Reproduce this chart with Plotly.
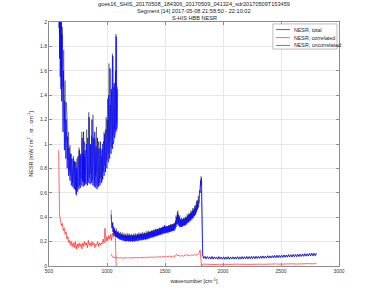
import numpy as np
import plotly.graph_objects as go

# ---------------- data ----------------
title_lines = ["goes16_SHIS_20170508_184306_20170509_041324_sdr20170509T153459",
               "Segment [14] 2017-05-08 21:58:50 - 22:10:02",
               "S-HIS HBB NESR"]
series_names = ["NESR, total", "NESR, correlated", "NESR, uncorrelated"]
series_colors = ["#000000", "#ff0000", "#0000ff"]
x_ticks = [500, 1000, 1500, 2000, 2500, 3000]

# uncorrelated (blue) band 1: noise troughs (from 585, step 6) and crests (from 588, step 6)
unc_b1_lo_start, unc_b1_hi_start, unc_b1_step = 585, 588, 6
unc_b1_lo = [1.95, 1.7, 1.55, 1.45, 1.35, 1.22, 1.1, 1.02, 0.95, 0.92,
             0.88, 0.84, 0.8, 0.78, 0.74, 0.72, 0.7, 0.69, 0.66, 0.7,
             0.65, 0.68, 0.63, 0.66, 0.62, 0.58, 0.64, 0.61, 0.65, 0.63,
             0.66, 0.64, 0.69, 0.66, 0.7, 0.65, 0.68, 0.66, 0.7, 0.67,
             0.69, 0.66, 0.72, 0.68, 0.7, 0.67, 0.71, 0.68, 0.72, 0.66,
             0.69, 0.65, 0.7, 0.64, 0.68, 0.63, 0.67, 0.65, 0.69, 0.66,
             0.7, 0.68, 0.72, 0.71, 0.75, 0.74, 0.78, 0.77, 0.82, 0.8,
             0.86, 0.85, 0.9, 0.88, 0.93, 0.92, 0.97, 0.96, 1.0, 1.02,
             1.05, 1.08, 1.1, 1.12, 1.15]
unc_b1_hi = [2.4, 2.3, 2.2, 2.05, 1.9, 1.75, 1.6, 1.45, 1.35, 1.25,
             1.2, 1.12, 1.06, 1.0, 0.97, 0.94, 0.92, 0.9, 0.88, 0.86,
             0.88, 0.84, 0.86, 0.82, 0.85, 0.8, 0.84, 0.9, 0.86, 0.95,
             0.88, 0.92, 0.9, 1.05, 0.92, 1.1, 0.9, 0.95, 0.92, 1.0,
             0.95, 1.05, 0.93, 1.22, 0.95, 1.0, 0.94, 1.2, 0.96, 1.05,
             0.93, 1.1, 0.92, 0.98, 0.9, 1.05, 0.92, 0.96, 0.9, 1.02,
             0.92, 0.95, 0.96, 1.0, 1.02, 1.08, 1.05, 1.12, 1.1, 1.2,
             1.18, 1.4, 1.25, 1.62, 1.3, 1.45, 1.32, 1.72, 1.35, 1.5,
             1.4, 1.6, 1.88, 1.42, 1.45]
# band 2: troughs from 1035, crests from 1039, step 8
unc_b2_lo_start, unc_b2_hi_start, unc_b2_step = 1035, 1039, 8
unc_b2_lo = [0.42, 0.31, 0.28, 0.26, 0.245, 0.24, 0.235, 0.23, 0.225, 0.22,
             0.215, 0.215, 0.21, 0.21, 0.205, 0.205, 0.2, 0.205, 0.205, 0.2,
             0.205, 0.2, 0.205, 0.2, 0.205, 0.2, 0.205, 0.205, 0.21, 0.205,
             0.21, 0.21, 0.215, 0.21, 0.215, 0.215, 0.22, 0.215, 0.22, 0.22,
             0.225, 0.225, 0.23, 0.23, 0.235, 0.235, 0.24, 0.24, 0.245, 0.245,
             0.25, 0.25, 0.255, 0.255, 0.26, 0.26, 0.265, 0.265, 0.27, 0.27,
             0.27, 0.275, 0.275, 0.28, 0.28, 0.285, 0.285, 0.29, 0.29, 0.3,
             0.32, 0.34, 0.34, 0.33, 0.32, 0.32, 0.32, 0.325, 0.33, 0.33,
             0.335, 0.34, 0.35, 0.355, 0.36, 0.37, 0.375, 0.385, 0.39, 0.4,
             0.41, 0.42, 0.44, 0.46, 0.48, 0.52, 0.6, 0.66]
unc_b2_hi = [0.38, 0.35, 0.32, 0.3, 0.29, 0.285, 0.28, 0.275, 0.27, 0.265,
             0.26, 0.26, 0.255, 0.255, 0.25, 0.255, 0.25, 0.25, 0.255, 0.25,
             0.25, 0.255, 0.25, 0.25, 0.255, 0.25, 0.255, 0.25, 0.26, 0.255,
             0.26, 0.26, 0.265, 0.26, 0.265, 0.265, 0.27, 0.265, 0.27, 0.275,
             0.275, 0.28, 0.28, 0.285, 0.285, 0.29, 0.29, 0.295, 0.3, 0.3,
             0.3, 0.305, 0.31, 0.31, 0.315, 0.315, 0.32, 0.33, 0.32, 0.325,
             0.325, 0.33, 0.33, 0.335, 0.335, 0.34, 0.34, 0.345, 0.35, 0.37,
             0.4, 0.44, 0.42, 0.4, 0.385, 0.38, 0.38, 0.385, 0.39, 0.39,
             0.395, 0.4, 0.41, 0.42, 0.425, 0.43, 0.44, 0.45, 0.46, 0.47,
             0.48, 0.5, 0.52, 0.54, 0.57, 0.62, 0.7, 0.72]
# band 3 starts 1825, step 10
unc_b3_start, unc_b3_step = 1825, 10
unc_b3 = [0.085, 0.062, 0.078, 0.058, 0.076, 0.06, 0.074, 0.057, 0.077, 0.056,
          0.074, 0.058, 0.073, 0.055, 0.076, 0.057, 0.072, 0.056, 0.074, 0.055,
          0.073, 0.056, 0.075, 0.055, 0.072, 0.057, 0.074, 0.056, 0.073, 0.057,
          0.075, 0.056, 0.074, 0.058, 0.076, 0.057, 0.075, 0.058, 0.077, 0.058,
          0.076, 0.059, 0.078, 0.06, 0.077, 0.06, 0.079, 0.061, 0.078, 0.062,
          0.08, 0.062, 0.081, 0.063, 0.08, 0.064, 0.083, 0.064, 0.082, 0.066,
          0.084, 0.066, 0.085, 0.067, 0.087, 0.068, 0.086, 0.069, 0.088, 0.07,
          0.09, 0.071, 0.089, 0.072, 0.092, 0.073, 0.091, 0.074, 0.094, 0.075,
          0.093, 0.076, 0.096, 0.077, 0.095, 0.078, 0.098, 0.079, 0.1, 0.08,
          0.099, 0.081, 0.102, 0.082, 0.104, 0.083, 0.103, 0.084, 0.105]

# total (black)
tot_b1_start, tot_b1_step = 585, 6
tot_b1 = [2.36, 1.91, 2.16, 2.26, 1.62, 1.96, 1.47, 1.77, 1.17, 1.52,
          1.02, 1.34, 1.22, 0.87, 1.1, 0.78, 0.99, 0.74, 0.92, 0.82,
          0.68, 0.9, 0.64, 0.86, 0.72, 0.59, 0.88, 0.65, 0.8, 0.97,
          0.66, 0.9, 0.72, 1.1, 0.69, 0.92, 0.76, 1.02, 0.68, 0.95,
          1.12, 0.7, 0.87, 1.26, 0.72, 0.97, 0.76, 1.07, 0.7, 1.24,
          0.82, 0.68, 1.04, 0.74, 1.14, 0.66, 0.92, 1.02, 0.68, 0.97,
          0.72, 0.9, 0.69, 1.0, 0.77, 1.1, 0.82, 0.97, 1.22, 0.87,
          1.37, 0.92, 1.66, 1.02, 1.32, 0.97, 1.57, 1.74, 1.07, 1.47,
          1.12, 1.62, 1.9, 1.17, 1.47]
tot_b2_start, tot_b2_step = 1035, 8
tot_b2 = [0.46, 0.325, 0.36, 0.275, 0.315, 0.255, 0.305, 0.245, 0.285, 0.235, 0.28, 0.23, 0.275, 0.225, 0.27, 0.22,
          0.265, 0.215, 0.27, 0.22, 0.265, 0.215, 0.26, 0.22, 0.265, 0.215, 0.27, 0.22, 0.265, 0.225, 0.275, 0.225,
          0.27, 0.23, 0.28, 0.23, 0.275, 0.235, 0.285, 0.235, 0.29, 0.24, 0.285, 0.245, 0.295, 0.245, 0.3, 0.25,
          0.305, 0.255, 0.305, 0.26, 0.315, 0.265, 0.315, 0.27, 0.325, 0.275, 0.335, 0.28, 0.325, 0.285, 0.335, 0.285,
          0.345, 0.29, 0.345, 0.295, 0.355, 0.315, 0.415, 0.345, 0.455, 0.355, 0.415, 0.335, 0.395, 0.335, 0.395, 0.345,
          0.405, 0.355, 0.425, 0.365, 0.435, 0.375, 0.455, 0.395, 0.475, 0.415, 0.495, 0.435, 0.535, 0.465, 0.575, 0.515,
          0.655, 0.735]
tot_b3_start, tot_b3_step = 1825, 10
tot_b3 = [0.087, 0.064, 0.08, 0.06, 0.078, 0.062, 0.076, 0.059, 0.079, 0.058,
          0.076, 0.06, 0.075, 0.057, 0.078, 0.059, 0.074, 0.058, 0.076, 0.057,
          0.075, 0.058, 0.077, 0.057, 0.074, 0.059, 0.076, 0.058, 0.075, 0.059,
          0.077, 0.058, 0.076, 0.06, 0.078, 0.059, 0.077, 0.06, 0.079, 0.06,
          0.078, 0.061, 0.08, 0.062, 0.079, 0.062, 0.081, 0.063, 0.08, 0.064,
          0.082, 0.064, 0.083, 0.065, 0.082, 0.066, 0.085, 0.066, 0.084, 0.068,
          0.086, 0.068, 0.087, 0.069, 0.089, 0.07, 0.088, 0.071, 0.09, 0.072,
          0.092, 0.073, 0.091, 0.074, 0.094, 0.075, 0.093, 0.076, 0.096, 0.077,
          0.095, 0.078, 0.098, 0.079, 0.097, 0.08, 0.1, 0.081, 0.102, 0.082,
          0.101, 0.083, 0.104, 0.084, 0.106, 0.085, 0.105, 0.086, 0.107]

# correlated (red)
cor_b1_start, cor_b1_step = 583, 8
cor_b1 = [0.95, 0.42, 0.37, 0.33, 0.35, 0.29, 0.31, 0.26, 0.28, 0.22, 0.24, 0.19, 0.21, 0.17, 0.2, 0.16,
          0.19, 0.15, 0.2, 0.14, 0.18, 0.15, 0.19, 0.16, 0.18, 0.14, 0.19, 0.16, 0.2, 0.17, 0.19, 0.15,
          0.21, 0.17, 0.19, 0.16, 0.2, 0.17, 0.19, 0.15, 0.18, 0.17, 0.2, 0.16, 0.19, 0.17, 0.19, 0.18,
          0.22, 0.19, 0.31, 0.2, 0.24, 0.21, 0.25, 0.22, 0.26, 0.21, 0.27, 0.24, 0.3, 0.26, 0.0]
cor_b2_start, cor_b2_step = 1035, 12
cor_b2 = [0.1, 0.075, 0.068, 0.072, 0.065, 0.07, 0.064, 0.069, 0.063, 0.068, 0.064, 0.07, 0.065, 0.069,
          0.064, 0.07, 0.065, 0.071, 0.066, 0.07, 0.066, 0.072, 0.067, 0.071, 0.067, 0.073, 0.068, 0.074,
          0.069, 0.075, 0.07, 0.076, 0.07, 0.077, 0.071, 0.078, 0.072, 0.079, 0.073, 0.08, 0.074, 0.08,
          0.074, 0.081, 0.075, 0.082, 0.078, 0.095, 0.085, 0.088, 0.08, 0.086, 0.08, 0.087, 0.095, 0.085,
          0.09, 0.084, 0.092, 0.086, 0.094, 0.088, 0.097, 0.1, 0.13, 0.0]
cor_b3_start, cor_b3_step = 1825, 35
cor_b3 = [0.016, 0.013, 0.015, 0.012, 0.014, 0.012, 0.014, 0.013, 0.015, 0.012, 0.014, 0.013, 0.015,
          0.013, 0.015, 0.014, 0.016, 0.014, 0.017, 0.015, 0.017, 0.016, 0.018, 0.016, 0.019, 0.017,
          0.019, 0.018, 0.02]


def grid(start, step, vals):
    return list(start + step * np.arange(len(vals)))


def interleave(lo_start, hi_start, step, lo, hi):
    xs, ys = [], []
    for xl, yl, xh, yh in zip(grid(lo_start, step, lo), lo, grid(hi_start, step, hi), hi):
        xs += [xl, xh]
        ys += [yl, yh]
    return xs, ys


def join(parts):
    # gap between band 1 and band 2 (they overlap); bands 2 and 3 are joined
    xs, ys = [], []
    for k, (xv, yv) in enumerate(parts):
        xs += list(xv)
        ys += list(yv)
        if k == 0:
            xs.append(None)
            ys.append(None)
    return xs, ys


unc_x, unc_y = join([interleave(unc_b1_lo_start, unc_b1_hi_start, unc_b1_step, unc_b1_lo, unc_b1_hi),
                     interleave(unc_b2_lo_start, unc_b2_hi_start, unc_b2_step, unc_b2_lo, unc_b2_hi),
                     (grid(unc_b3_start, unc_b3_step, unc_b3), unc_b3)])
tot_x, tot_y = join([(grid(tot_b1_start, tot_b1_step, tot_b1), tot_b1),
                     (grid(tot_b2_start, tot_b2_step, tot_b2), tot_b2),
                     (grid(tot_b3_start, tot_b3_step, tot_b3), tot_b3)])
cor_x, cor_y = join([(grid(cor_b1_start, cor_b1_step, cor_b1), cor_b1),
                     (grid(cor_b2_start, cor_b2_step, cor_b2), cor_b2),
                     (grid(cor_b3_start, cor_b3_step, cor_b3), cor_b3)])

# ---------------- figure ----------------
FONT = "Liberation Sans, Arial, sans-serif"
fig = go.Figure()
fig.add_trace(go.Scatter(x=tot_x, y=tot_y, mode="lines", name=series_names[0],
                         line=dict(color=series_colors[0], width=0.4), showlegend=False))
fig.add_trace(go.Scatter(x=cor_x, y=cor_y, mode="lines", name=series_names[1],
                         line=dict(color=series_colors[1], width=0.6), showlegend=False))
fig.add_trace(go.Scatter(x=unc_x, y=unc_y, mode="lines", name=series_names[2],
                         line=dict(color=series_colors[2], width=0.7), showlegend=False))

axis_common = dict(showline=True, mirror="ticks", linecolor="#8c8c8c", linewidth=1,
                   showgrid=True, gridcolor="#e8e8e8", gridwidth=1, zeroline=False,
                   ticks="inside", ticklen=3, tickcolor="#8c8c8c",
                   tickfont=dict(size=5, color="#333333", family=FONT))

# title as three centred lines above the plot area
annotations = []
for line, yp in zip(title_lines, [1.074, 1.045, 1.017]):
    annotations.append(dict(text=line, xref="paper", yref="paper", x=0.5, y=yp,
                            xanchor="center", yanchor="middle", showarrow=False,
                            font=dict(size=5.6, color="#222222", family=FONT)))

# compact legend box (top-right inside plot)
leg_x0, leg_x1, leg_y0, leg_y1 = 0.772, 0.993, 0.889, 0.992
row_y = [0.969, 0.936, 0.904]
shapes = [dict(type="rect", xref="paper", yref="paper", x0=leg_x0, x1=leg_x1, y0=leg_y0, y1=leg_y1,
               line=dict(color="#a0a0a0", width=0.7), fillcolor="white", layer="above")]
for name, col, yy in zip(series_names, series_colors, row_y):
    shapes.append(dict(type="line", xref="paper", yref="paper", x0=0.783, x1=0.831, y0=yy, y1=yy,
                       line=dict(color=col, width=0.6), layer="above"))
    annotations.append(dict(text=name, xref="paper", yref="paper", x=0.838, y=yy,
                            xanchor="left", yanchor="middle", showarrow=False,
                            font=dict(size=5.3, color="#222222", family=FONT)))

fig.update_layout(
    width=375, height=301,
    margin=dict(l=49, r=36, t=22, b=35),
    paper_bgcolor="white", plot_bgcolor="white",
    font=dict(family=FONT, size=6, color="#222222"),
    xaxis=dict(range=[500, 3000], tickvals=x_ticks,
               title=dict(text="wavenumber [cm<sup>-1</sup>]", standoff=6,
                          font=dict(size=5.5, family=FONT)),
               **axis_common),
    yaxis=dict(range=[0, 2], dtick=0.2,
               title=dict(text="NESR [mW / m<sup>2</sup> . sr . cm<sup>-1</sup>]", standoff=6,
                          font=dict(size=5.5, family=FONT)),
               **axis_common),
    shapes=shapes,
    annotations=annotations,
    showlegend=False,
)

fig.write_html("out.html")
